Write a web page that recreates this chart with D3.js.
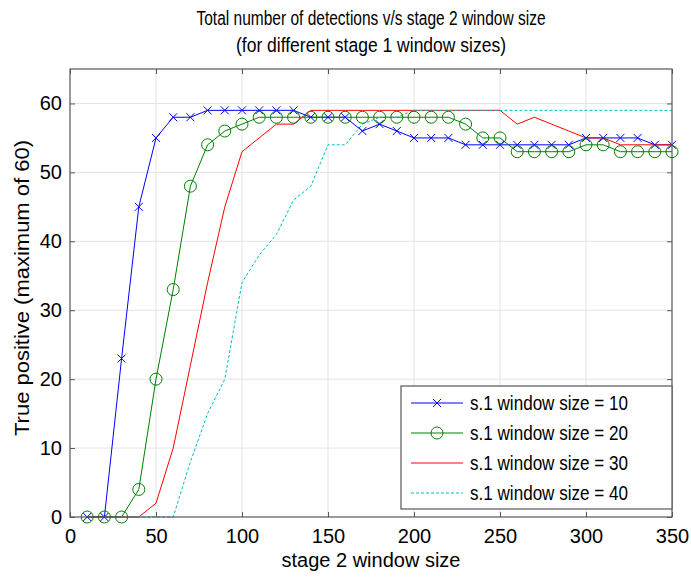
<!DOCTYPE html>
<html>
<head>
<meta charset="utf-8">
<script src="https://cdn.jsdelivr.net/npm/d3@7"></script>
<style>
  body { margin: 0; background: #fff; }
  svg { display: block; }
  text { font-family: "Liberation Sans", Arial, sans-serif; fill: #000; }
</style>
</head>
<body>
<script>
// stage 2 window sizes (x values)
const windowSizes = [10, 20, 30, 40, 50, 60, 70, 80, 90, 100, 110, 120, 130, 140, 150, 160, 170, 180,
  190, 200, 210, 220, 230, 240, 250, 260, 270, 280, 290, 300, 310, 320, 330, 340, 350];

// true positives for each stage 1 window size
const size10 = [0, 0, 23, 45, 55, 58, 58, 59, 59, 59, 59, 59, 59, 58, 58, 58, 56, 57,
  56, 55, 55, 55, 54, 54, 54, 54, 54, 54, 54, 55, 55, 55, 55, 54, 54];
const size20 = [0, 0, 0, 4, 20, 33, 48, 54, 56, 57, 58, 58, 58, 58, 58, 58, 58, 58,
  58, 58, 58, 58, 57, 55, 55, 53, 53, 53, 53, 54, 54, 53, 53, 53, 53];
const size30 = [0, 0, 0, 0, 2, 10, 22, 34, 45, 53, 55, 57, 57, 59, 59, 59, 59, 59,
  59, 59, 59, 59, 59, 59, 59, 57, 58, 57, 56, 55, 55, 54, 54, 54, 54];
const size40 = [0, 0, 0, 0, 0, 0, 8, 15, 20, 34, 38, 41, 46, 48, 54, 54, 57, 58,
  58, 59, 59, 59, 59, 59, 59, 59, 59, 59, 59, 59, 59, 59, 59, 59, 59];

const seriesNames = ['s.1 window size = 10', 's.1 window size = 20', 's.1 window size = 30', 's.1 window size = 40'];
const xTicks = [0, 50, 100, 150, 200, 250, 300, 350];
const yTicks = [0, 10, 20, 30, 40, 50, 60];

const series = [
  { name: seriesNames[0], values: size10, color: '#0000ff', marker: 'x', dash: null },
  { name: seriesNames[1], values: size20, color: '#008000', marker: 'o', dash: null },
  { name: seriesNames[2], values: size30, color: '#ff0000', marker: null, dash: null },
  { name: seriesNames[3], values: size40, color: '#00bfbf', marker: null, dash: '3,2' }
];

const margin = { top: 69, right: 19, bottom: 63, left: 70 };
const width = 691 - margin.left - margin.right;
const height = 580 - margin.top - margin.bottom;

const svg = d3.select('body')
  .append('svg')
  .attr('width', 691)
  .attr('height', 580);

const g = svg.append('g')
  .attr('transform', `translate(${margin.left}, ${margin.top})`);

const x = d3.scaleLinear().domain([0, 350]).range([0, width]);
const y = d3.scaleLinear().domain([0, 65]).range([height, 0]);

// Title (two lines, narrow lettering like the original)
svg.append('text')
  .attr('x', margin.left + width / 2)
  .attr('y', 25)
  .attr('text-anchor', 'middle')
  .attr('textLength', 349)
  .attr('lengthAdjust', 'spacingAndGlyphs')
  .style('font-size', '20px')
  .text('Total number of detections v/s stage 2 window size');
svg.append('text')
  .attr('x', margin.left + width / 2)
  .attr('y', 52)
  .attr('text-anchor', 'middle')
  .attr('textLength', 270)
  .attr('lengthAdjust', 'spacingAndGlyphs')
  .style('font-size', '20px')
  .text('(for different stage 1 window sizes)');

// Grid
const grid = g.append('g');
grid.selectAll('line.gx')
  .data(xTicks.slice(1, -1))
  .enter()
  .append('line')
  .attr('x1', d => x(d)).attr('x2', d => x(d))
  .attr('y1', 0).attr('y2', height)
  .attr('stroke', '#e3e3e3');
grid.selectAll('line.gy')
  .data(yTicks.slice(1))
  .enter()
  .append('line')
  .attr('y1', d => y(d)).attr('y2', d => y(d))
  .attr('x1', 0).attr('x2', width)
  .attr('stroke', '#e3e3e3');

// Lines
const line = d3.line()
  .x((d, i) => x(windowSizes[i]))
  .y(d => y(d));

series.forEach(s => {
  g.append('path')
    .datum(s.values)
    .attr('fill', 'none')
    .attr('stroke', s.color)
    .attr('stroke-width', 1)
    .attr('stroke-dasharray', s.dash)
    .attr('d', line);
});

function drawMarker(sel, type, color, cx, cy) {
  if (type === 'x') {
    const r = 4;
    sel.append('path')
      .attr('d', `M${cx - r},${cy - r}L${cx + r},${cy + r}M${cx - r},${cy + r}L${cx + r},${cy - r}`)
      .attr('stroke', color)
      .attr('stroke-width', 1)
      .attr('fill', 'none');
  } else if (type === 'o') {
    sel.append('circle')
      .attr('cx', cx).attr('cy', cy).attr('r', 6)
      .attr('stroke', color)
      .attr('stroke-width', 1)
      .attr('fill', 'none');
  }
}

series.filter(s => s.marker).forEach(s => {
  const mg = g.append('g');
  s.values.forEach((v, i) => drawMarker(mg, s.marker, s.color, x(windowSizes[i]), y(v)));
});

// Axes (ticks inward, on all four sides)
const axisColor = '#555';
const xAxis = g.append('g')
  .attr('transform', `translate(0, ${height})`)
  .call(d3.axisBottom(x).tickValues(xTicks).tickSizeInner(-5).tickSizeOuter(0).tickPadding(12));
const xAxisTop = g.append('g')
  .call(d3.axisTop(x).tickValues(xTicks).tickSizeInner(-5).tickSizeOuter(0).tickFormat(''));
const yAxis = g.append('g')
  .call(d3.axisLeft(y).tickValues(yTicks).tickSizeInner(-5).tickSizeOuter(0).tickPadding(8));
const yAxisRight = g.append('g')
  .attr('transform', `translate(${width}, 0)`)
  .call(d3.axisRight(y).tickValues(yTicks).tickSizeInner(-5).tickSizeOuter(0).tickFormat(''));

[xAxis, xAxisTop, yAxis, yAxisRight].forEach(a => {
  a.select('.domain').remove();
  a.selectAll('line').attr('stroke', axisColor);
  a.selectAll('text')
    .style('font-family', '"Liberation Sans", Arial, sans-serif')
    .style('font-size', '20px')
    .attr('fill', '#000');
});
xAxis.selectAll('text').attr('dy', '0.71em');

// Frame
g.append('rect')
  .attr('x', 0).attr('y', 0)
  .attr('width', width).attr('height', height)
  .attr('fill', 'none')
  .attr('stroke', axisColor)
  .attr('stroke-width', 1.2);

// Axis labels
svg.append('text')
  .attr('x', margin.left + width / 2)
  .attr('y', 567)
  .attr('text-anchor', 'middle')
  .style('font-size', '20px')
  .text('stage 2 window size');
svg.append('text')
  .attr('transform', `translate(29, 288) rotate(-90)`)
  .attr('text-anchor', 'middle')
  .attr('textLength', 296)
  .attr('lengthAdjust', 'spacingAndGlyphs')
  .style('font-size', '20px')
  .text('True positive (maximum of 60)');

// Legend
const legend = svg.append('g')
  .attr('transform', 'translate(401, 386)');
legend.append('rect')
  .attr('width', 271).attr('height', 123)
  .attr('fill', '#fff')
  .attr('stroke', axisColor)
  .attr('stroke-width', 1.2);

const rows = legend.selectAll('.legend-row')
  .data(series)
  .enter()
  .append('g')
  .attr('class', 'legend-row')
  .attr('transform', (d, i) => `translate(0, ${17 + i * 30})`);

rows.append('line')
  .attr('x1', 10).attr('x2', 62)
  .attr('y1', 0).attr('y2', 0)
  .attr('stroke', d => d.color)
  .attr('stroke-width', 1)
  .attr('stroke-dasharray', d => d.dash);
rows.each(function (d) {
  if (d.marker) drawMarker(d3.select(this), d.marker, d.color, 36, 0);
});
rows.append('text')
  .attr('x', 69)
  .attr('y', 0)
  .attr('dy', '0.35em')
  .attr('textLength', 158)
  .attr('lengthAdjust', 'spacingAndGlyphs')
  .style('font-size', '21px')
  .text(d => d.name);
</script>
</body>
</html>
